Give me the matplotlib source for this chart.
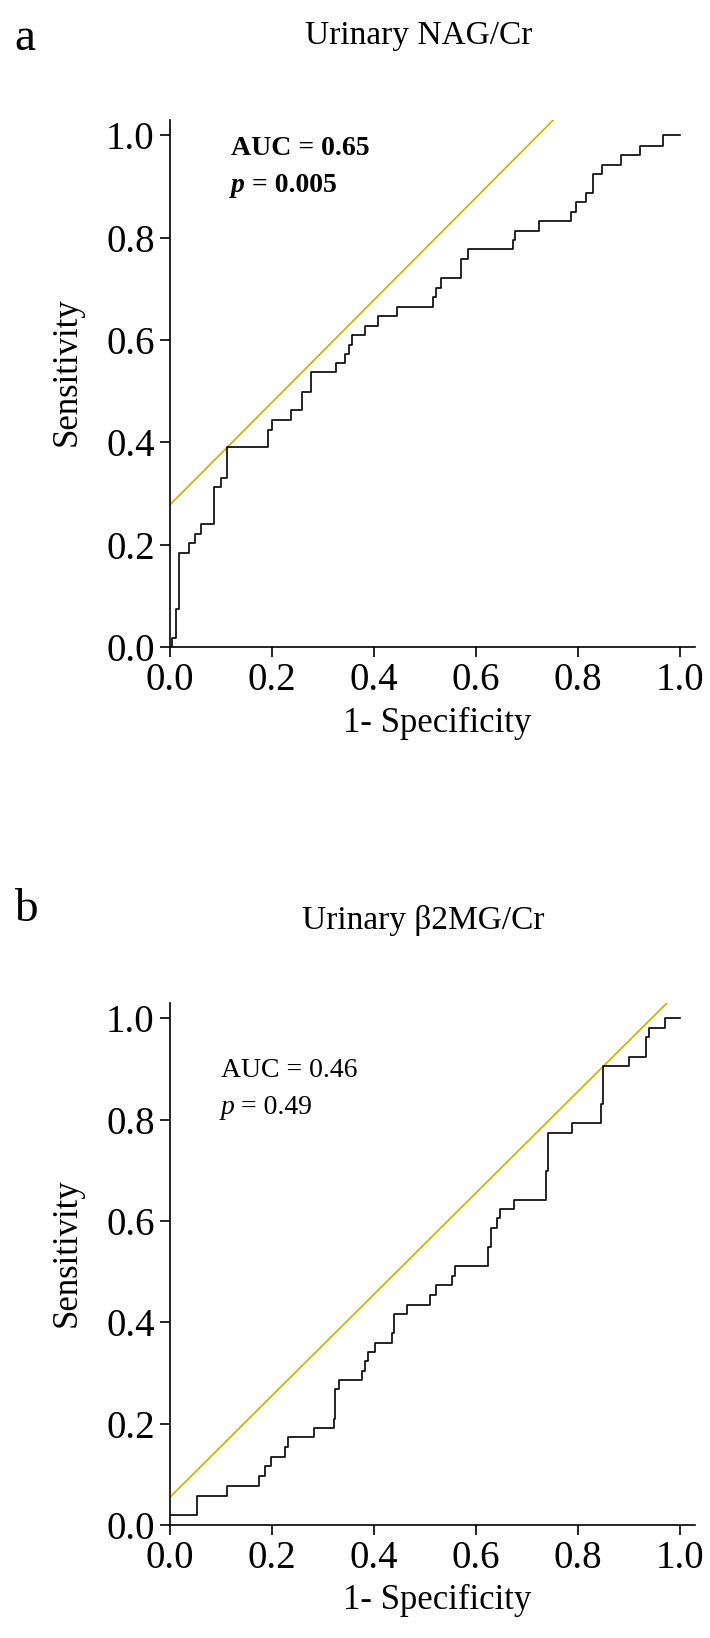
import numpy as np
import matplotlib
matplotlib.use('Agg')
import matplotlib.pyplot as plt

plt.rcParams['font.family'] = ['Liberation Serif', 'DejaVu Serif']
plt.rcParams['axes.linewidth'] = 1.2
plt.rcParams['xtick.major.width'] = 1.2
plt.rcParams['ytick.major.width'] = 1.2

# panel a: urinary NAG/Cr ROC (1-specificity, sensitivity), step corners
fpr_a = [0.0, 0.004, 0.012, 0.017, 0.037, 0.049, 0.061, 0.087, 0.100, 0.112,
         0.193, 0.200, 0.238, 0.258, 0.276, 0.325, 0.344, 0.351, 0.357, 0.382,
         0.409, 0.446, 0.515, 0.521, 0.532, 0.570, 0.584, 0.672, 0.677, 0.723,
         0.786, 0.797, 0.816, 0.830, 0.848, 0.885, 0.923, 0.968, 1.0]
tpr_a = [0.0, 0.017, 0.075, 0.184, 0.203, 0.221, 0.240, 0.312, 0.331, 0.390,
         0.425, 0.444, 0.463, 0.499, 0.537, 0.555, 0.572, 0.591, 0.609, 0.628,
         0.646, 0.665, 0.684, 0.702, 0.721, 0.758, 0.777, 0.795, 0.814, 0.833,
         0.850, 0.869, 0.888, 0.924, 0.943, 0.962, 0.980, 1.0, 1.0]
ref_x_a = [0.0, 0.755]
ref_y_a = [0.278, 1.033]

# panel b: urinary beta2MG/Cr ROC
fpr_b = [0.0, 0.052, 0.112, 0.175, 0.186, 0.198, 0.225, 0.231, 0.282, 0.321,
         0.324, 0.332, 0.376, 0.382, 0.389, 0.402, 0.435, 0.440, 0.464, 0.510,
         0.521, 0.554, 0.560, 0.623, 0.629, 0.642, 0.648, 0.674, 0.737, 0.742,
         0.788, 0.845, 0.850, 0.901, 0.934, 0.939, 0.972, 1.0]
tpr_b = [0.019, 0.057, 0.077, 0.097, 0.116, 0.135, 0.154, 0.173, 0.192, 0.210,
         0.268, 0.287, 0.303, 0.323, 0.342, 0.360, 0.379, 0.417, 0.435, 0.454,
         0.473, 0.492, 0.511, 0.549, 0.586, 0.605, 0.624, 0.642, 0.699, 0.774,
         0.793, 0.830, 0.905, 0.924, 0.962, 0.981, 1.0, 1.0]
ref_x_b = [0.0, 0.978]
ref_y_b = [0.055, 1.033]

ticks = [0.0, 0.2, 0.4, 0.6, 0.8, 1.0]
tick_labels = ['0.0', '0.2', '0.4', '0.6', '0.8', '1.0']

W, H = 710, 1638
fig = plt.figure(figsize=(W / 100, H / 100), dpi=100)

def px_axes(left, top, right, bottom):
    return fig.add_axes([left / W, 1 - bottom / H, (right - left) / W, (bottom - top) / H])

def roc_panel(ax, fpr, tpr, rx, ry):
    ax.plot(rx, ry, color='#CBB800', lw=1.3, zorder=2)
    ax.plot(fpr, tpr, drawstyle='steps-post', color='black', lw=1.2, zorder=3)
    ax.set_xlim(0, 1.03)
    ax.set_ylim(0, 1.03)
    ax.spines['top'].set_visible(False)
    ax.spines['right'].set_visible(False)
    ax.set_xticks(ticks)
    ax.set_xticklabels(tick_labels)
    ax.set_yticks(ticks)
    ax.set_yticklabels(tick_labels)
    ax.tick_params(labelsize=28, length=7, pad=4)
    ax.set_xlabel('1- Specificity', fontsize=25)
    ax.set_ylabel('Sensitivity', fontsize=25)
    ax.xaxis.set_label_coords(0.509, -0.145)
    ax.xaxis.label.set_va('center')
    ax.yaxis.set_label_coords(-0.196, 0.522)
    ax.yaxis.label.set_va('center')

ax1 = px_axes(170, 120, 695, 647)
roc_panel(ax1, fpr_a, tpr_a, ref_x_a, ref_y_a)
ax1.text(0.116, 0.945, 'AUC = 0.65', transform=ax1.transAxes, fontsize=20,
         fontweight='bold', va='center')
ax1.text(0.116, 0.875, 'p', transform=ax1.transAxes, fontsize=20,
         fontweight='bold', fontstyle='italic', va='center')
ax1.text(0.157, 0.875, '= 0.005', transform=ax1.transAxes, fontsize=20,
         fontweight='bold', va='center')

ax2 = px_axes(170, 1003, 695, 1525)
roc_panel(ax2, fpr_b, tpr_b, ref_x_b, ref_y_b)
ax2.text(0.097, 0.87, 'AUC = 0.46', transform=ax2.transAxes, fontsize=20, va='center')
ax2.text(0.097, 0.80, 'p', transform=ax2.transAxes, fontsize=20,
         fontstyle='italic', va='center')
ax2.text(0.135, 0.80, '= 0.49', transform=ax2.transAxes, fontsize=20, va='center')

fig.text(14 / W, 1 - 39 / H, 'a', fontsize=34, va='center', ha='left')
fig.text(419 / W, 1 - 36 / H, 'Urinary NAG/Cr', fontsize=24, va='center', ha='center')
fig.text(14 / W, 1 - 910 / H, 'b', fontsize=34, va='center', ha='left')
fig.text(423 / W, 1 - 921 / H, 'Urinary \u03b22MG/Cr', fontsize=24, va='center', ha='center')

fig.savefig('out.png', dpi=100)
